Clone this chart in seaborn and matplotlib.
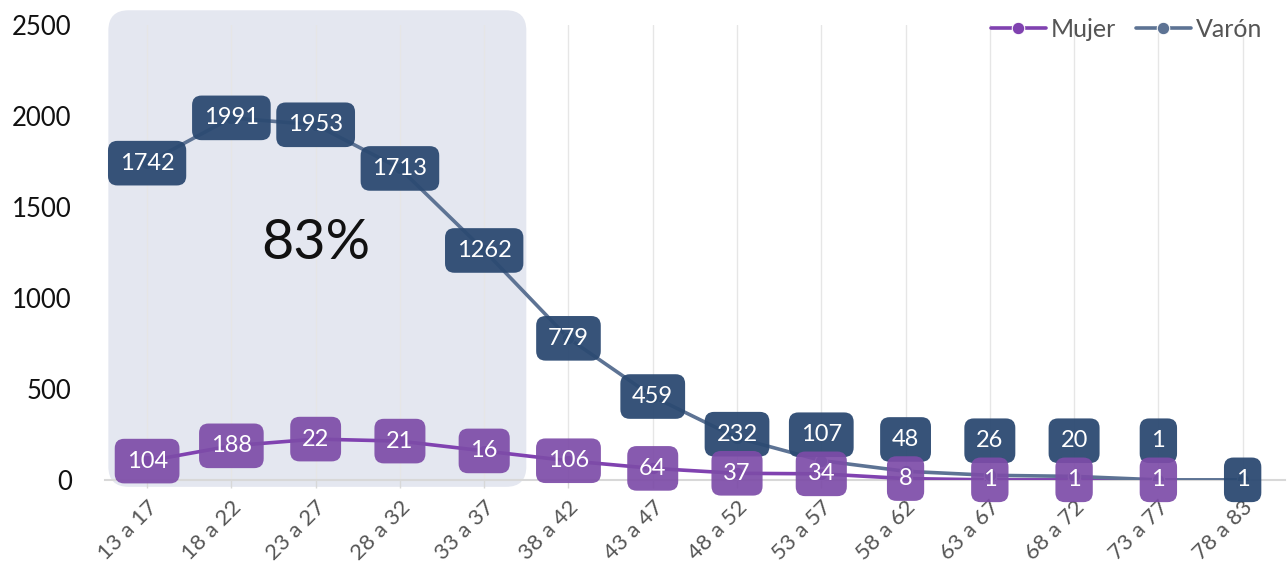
import matplotlib
matplotlib.use("Agg")
import matplotlib.pyplot as plt
import matplotlib.transforms as mtransforms
from matplotlib.patches import FancyBboxPatch
import numpy as np
import pandas as pd
import seaborn as sns

# Datos
grupos = ["13 a 17", "18 a 22", "23 a 27", "28 a 32", "33 a 37", "38 a 42", "43 a 47",
          "48 a 52", "53 a 57", "58 a 62", "63 a 67", "68 a 72", "73 a 77", "78 a 83"]
varon = [1742, 1991, 1953, 1713, 1262, 779, 459, 232, 107, 48, 26, 20, 1, 1]
mujer = [104, 188, 225, 214, 160, 106, 64, 37, 34, 8, 1, 1, 1]
mujer_etiquetas = ["104", "188", "22", "21", "16", "106", "64", "37", "34", "8", "1", "1", "1"]
varon_etiquetas = [str(v) for v in varon]
porcentaje = "83%"

col_mujer_linea = "#8042b0"
col_mujer_caja = "#7d4ca8"
col_varon_linea = "#5d7394"
col_varon_caja = "#2c4a72"


def main():
    sns.set_theme(style="white")
    plt.rcParams['font.family'] = ['Lato', 'DejaVu Sans']

    df = pd.concat([
        pd.DataFrame({"grupo": grupos[:len(mujer)], "pos": np.arange(len(mujer)),
                      "valor": mujer, "sexo": "Mujer"}),
        pd.DataFrame({"grupo": grupos, "pos": np.arange(len(varon)),
                      "valor": varon, "sexo": "Varón"}),
    ])

    fig = plt.figure(figsize=(12.88, 5.72), dpi=100)
    ax = fig.add_axes([0.0815, 0.1608, 0.916, 0.795])

    # zona sombreada 13 a 37
    trans = mtransforms.blended_transform_factory(ax.transData, ax.transAxes)
    zona = FancyBboxPatch((-0.46, -0.015), 4.96, 1.048,
                          boxstyle="round,pad=0,rounding_size=0.24",
                          mutation_aspect=0.186, transform=trans,
                          facecolor="#e4e7f0", edgecolor="none", zorder=0, clip_on=False)
    ax.add_patch(zona)

    sns.lineplot(data=df, x="pos", y="valor", hue="sexo", ax=ax,
                 palette={"Mujer": col_mujer_linea, "Varón": col_varon_linea},
                 marker="o", markersize=9, linewidth=2.6, zorder=3)

    caja = "round,pad=0.5,rounding_size=0.4"
    # etiquetas de valores
    for i, (v, t) in enumerate(zip(varon, varon_etiquetas)):
        y = v
        if i < len(mujer) and v < 300:
            y = max(v, mujer[i] + 215)
        ax.text(i, y, t, ha="center", va="center", fontsize=17, color="white",
                zorder=5, bbox=dict(boxstyle=caja, fc=col_varon_caja, ec="none", alpha=0.95))
    for i, (v, t) in enumerate(zip(mujer, mujer_etiquetas)):
        ax.text(i, v, t, ha="center", va="center", fontsize=17, color="white",
                zorder=6, bbox=dict(boxstyle=caja, fc=col_mujer_caja, ec="none", alpha=0.92))

    ax.text(2, 1300, porcentaje, ha="center", va="center",
            fontsize=40, color="#111111", zorder=2)

    ax.set_xlim(-0.5, 13.5)
    ax.set_ylim(0, 2500)
    ax.set_xticks(range(len(grupos)))
    ax.set_xticklabels(grupos, rotation=45, ha="right", rotation_mode="anchor",
                       fontsize=16, color="#555555")
    ax.set_yticks([0, 500, 1000, 1500, 2000, 2500])
    ax.tick_params(axis="y", labelsize=18.5, length=0, pad=24, labelcolor="#111111")
    ax.tick_params(axis="x", length=6, width=1, color="#d8d8d8", bottom=True, pad=6)
    ax.set_xlabel("")
    ax.set_ylabel("")

    ax.grid(axis="x", color="#e6e6e6", linewidth=1)
    ax.set_axisbelow(True)
    for s in ["top", "right", "left"]:
        ax.spines[s].set_visible(False)
    ax.spines["bottom"].set_color("#d8d8d8")
    ax.spines["bottom"].set_linewidth(1.5)

    handles, labels = ax.get_legend_handles_labels()
    ax.legend(handles, labels, loc="upper right", bbox_to_anchor=(1.0, 1.065), ncol=2,
              frameon=False, fontsize=18, handlelength=2.2, handletextpad=0.2,
              columnspacing=0.8, labelcolor="#555555")

    fig.savefig("out.png", dpi=100)
    plt.close(fig)


if __name__ == "__main__":
    main()
